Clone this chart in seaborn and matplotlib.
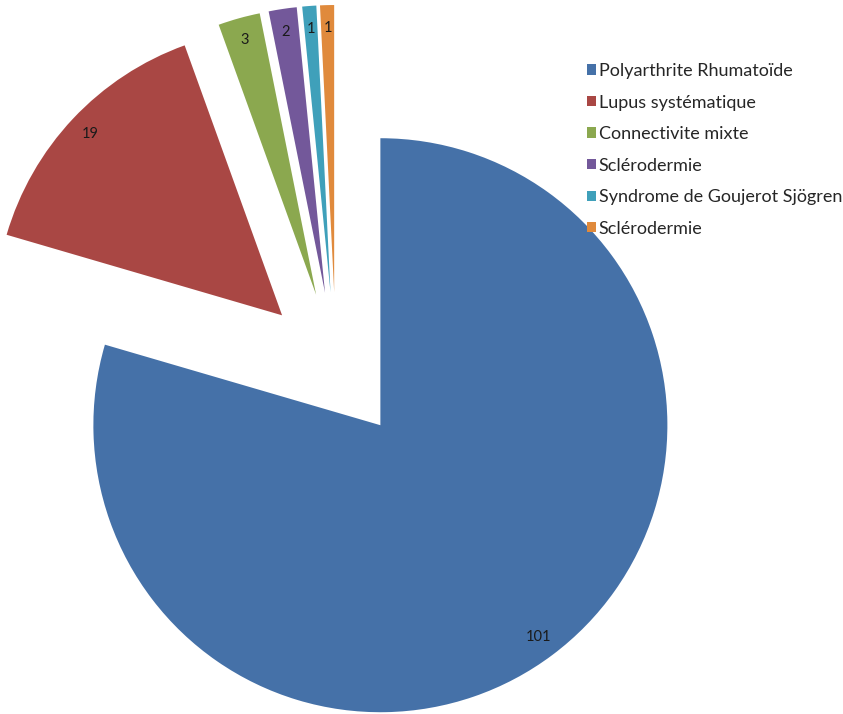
import matplotlib
matplotlib.use("Agg")
import matplotlib.pyplot as plt
import seaborn as sns

# data
categories = [
    "Polyarthrite Rhumatoïde",
    "Lupus systématique",
    "Connectivite mixte",
    "Sclérodermie",
    "Syndrome de Goujerot Sjögren",
    "Sclérodermie",
]
counts = [101, 19, 3, 2, 1, 1]
hex_colors = ["#4571A8", "#A94744", "#8BA84F", "#73589A", "#3FA0BA", "#E08A3C"]

sns.set_theme(style="white")
plt.rcParams["font.family"] = ["Lato", "DejaVu Sans"]

palette = sns.color_palette(hex_colors)
total = sum(counts)

fig = plt.figure(figsize=(8.43, 7.14), dpi=100)
ax = fig.add_axes([0, 0, 1, 1])

# axes in pixel units, explode is given in data units
wedges, texts, autotexts = ax.pie(
    counts,
    colors=palette,
    startangle=90,
    counterclock=False,
    explode=[74] * len(counts),
    center=(336, 348),
    radius=287,
    autopct=lambda p: f"{round(p * total / 100)}",
    pctdistance=0.92,
    textprops={"fontsize": 10.5, "color": "#1a1a1a"},
    wedgeprops={"linewidth": 0},
    frame=True,
)
ax.set_xlim(0, 843)
ax.set_ylim(0, 714)
ax.set_aspect("equal")
ax.axis("off")

fig.legend(
    wedges,
    categories,
    loc="upper left",
    bbox_to_anchor=(587 / 843, 1 - 63 / 714),
    frameon=False,
    fontsize=13,
    handlelength=0.5,
    handleheight=0.5,
    handletextpad=0.15,
    labelspacing=0.86,
    borderaxespad=0,
    borderpad=0,
)

fig.savefig("out.png", dpi=100, facecolor="white")
plt.close(fig)
